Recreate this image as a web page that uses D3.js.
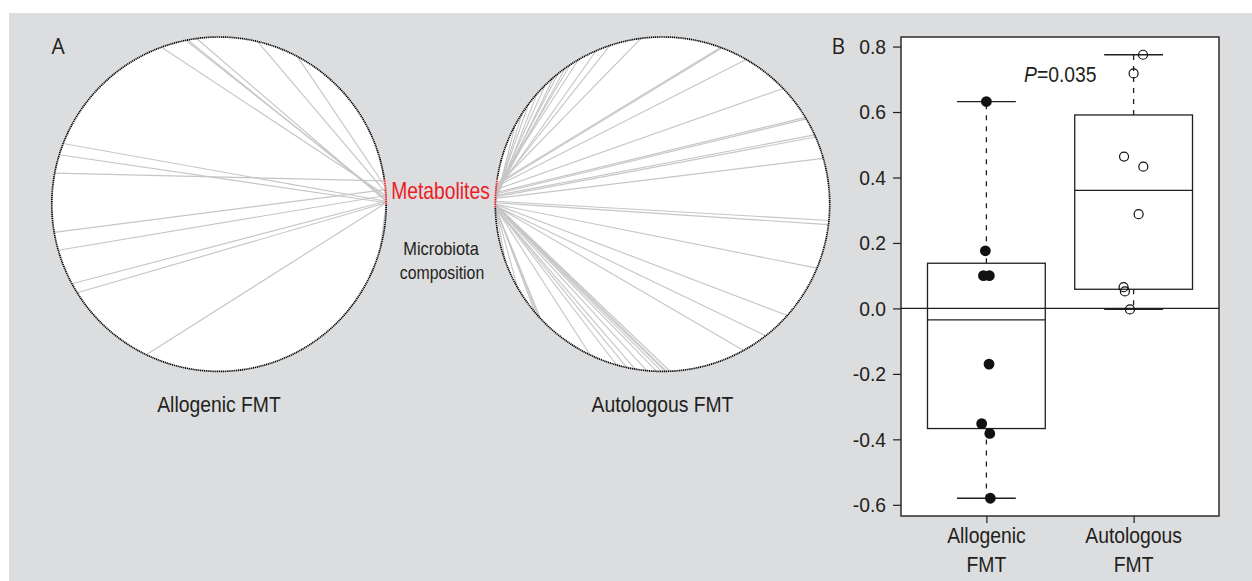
<!DOCTYPE html>
<html>
<head>
<meta charset="utf-8">
<script src="https://cdn.jsdelivr.net/npm/d3@7"></script>
<style>
  body { margin: 0; background: #fff; }
  svg { display: block; }
  text { font-family: "Liberation Sans", Arial, Helvetica, sans-serif; fill: #231f20; }
</style>
</head>
<body>
<div id="chart"></div>
<script>
// ---------- Panel A: links between metabolites and microbiota composition ----------
const circleGroups = ["Allogenic FMT", "Autologous FMT"];
const sectorLabels = ["Metabolites", "Microbiota composition"];
// metabolite sector span on each circle, degrees (0 = 3 o'clock, clockwise)
const metaboliteSpanAllogenic = [-8.6, 0.3];
const metaboliteSpanAutologous = [179, 188.5];
// each link: [angle on metabolite sector, angle on microbiota sector], degrees
const allogenicLinks = [
  [-3, 249.9], [-2, 258.5], [-1.5, 259.2], [-1, 262.3], [-4, 283.3], [-6, 298],
  [-1, 201.3], [-0.5, 197.2], [-8, 190.7], [-5, 170.3], [-3, 164], [-1, 151.6],
  [-0.5, 148], [-0.5, 115.8], [-8.5, 343.5], [0, 15.2]
];
const autologousLinks = [
  [186, 262.6], [185, 251.7], [184, 246.6], [186, 239.8], [185, 236.5], [183, 234.4],
  [184, 231.5], [182, 229.3], [183, 225.5], [181, 221.3], [182, 216.8], [181, 212.8],
  [180, 208.3],
  [187, 290.3], [186.5, 290.8], [186, 300], [185, 316.2], [184, 328.7], [183.5, 329.3],
  [183, 335.5], [182.5, 336.3], [182, 344.1],
  [181, 5.6], [180.5, 7.0], [180, 22.5], [180, 41.7], [179.5, 51.9], [179.5, 61],
  [180, 87.4], [180, 88.6], [179.5, 89.1], [179.5, 90.3], [179.5, 92], [179.5, 95.4],
  [179, 99.4], [179, 102.3], [179, 105.9], [179, 115.6],
  [179, 136.9], [179, 138], [179, 139.6], [179, 150], [179, 160]
];

// ---------- Panel B: correlation per patient ----------
const boxCategories = ["Allogenic", "Autologous"];
const allogenicValues = [0.632, 0.176, 0.10, 0.10, -0.17, -0.352, -0.382, -0.58];
const allogenicJitter = [0, -0.007, -0.02, 0.02, 0.018, -0.032, 0.023, 0.027];
const autologousValues = [0.775, 0.718, 0.464, 0.433, 0.288, 0.065, 0.052, -0.003];
const autologousJitter = [0.064, 0, -0.065, 0.066, 0.034, -0.068, -0.059, -0.025];
const yTicks = [-0.6, -0.4, -0.2, 0.0, 0.2, 0.4, 0.6, 0.8];
const pValue = "0.035";

const W = 1252, H = 581;
const svg = d3.select("#chart").append("svg").attr("width", W).attr("height", H);

svg.append("rect").attr("x", 9).attr("y", 13).attr("width", W - 9).attr("height", H - 13)
  .attr("fill", "#dcdddf");

const ink = "#231f20";
const red = "#ec1c24";

// text with a slightly condensed face
function label(parent, x, y, str, size, opts = {}) {
  const sx = opts.sx ?? 0.9;
  const t = parent.append("text")
    .attr("transform", `translate(${x},${y}) scale(${sx},1)`)
    .attr("text-anchor", opts.anchor || "middle")
    .style("font-size", size + "px");
  if (opts.fill) t.style("fill", opts.fill);
  if (opts.family) t.style("font-family", opts.family);
  t.text(str);
  return t;
}

// ---------- draw Panel A ----------
const deg = d3.scaleLinear().domain([0, 360]).range([0, 2 * Math.PI]);
const circleX = d3.scalePoint().domain(circleGroups).range([219, 662.5]);
const circleY = 204.2, R = 167.2;

function ringPoint(cx, a) {
  return [cx + R * Math.cos(deg(a)), circleY + R * Math.sin(deg(a))];
}

function drawCircle(name, links, span) {
  const cx = circleX(name);
  const g = svg.append("g");
  g.append("circle").attr("cx", cx).attr("cy", circleY).attr("r", R).attr("fill", "#fff");

  g.selectAll("line.link").data(links).join("line")
    .attr("class", "link")
    .attr("x1", d => ringPoint(cx, d[0])[0])
    .attr("y1", d => ringPoint(cx, d[0])[1])
    .attr("x2", d => ringPoint(cx, d[1])[0])
    .attr("y2", d => ringPoint(cx, d[1])[1])
    .attr("stroke", "#c6c6c6")
    .attr("stroke-width", 1.15);

  // microbiota sector border (dotted)
  const p1 = d3.path();
  p1.arc(cx, circleY, R, deg(span[1]), deg(span[0] + 360), false);
  g.append("path").attr("d", p1.toString()).attr("fill", "none")
    .attr("stroke", "#000").attr("stroke-width", 1.7).attr("stroke-dasharray", "1.2,0.7");

  // metabolite sector border (dotted red)
  const p2 = d3.path();
  p2.arc(cx, circleY, R, deg(span[0]), deg(span[1]), false);
  g.append("path").attr("d", p2.toString()).attr("fill", "none")
    .attr("stroke", red).attr("stroke-width", 1.8).attr("stroke-dasharray", "1.2,0.6");

  label(svg, cx, 412, name, 21.5, { sx: 0.9 });
}

drawCircle(circleGroups[0], allogenicLinks, metaboliteSpanAllogenic);
drawCircle(circleGroups[1], autologousLinks, metaboliteSpanAutologous);

label(svg, 440.5, 199, sectorLabels[0], 23, { sx: 0.84, fill: red });
label(svg, 441, 254.5, "Microbiota", 18, { sx: 0.91 });
label(svg, 442, 278.5, "composition", 18, { sx: 0.88 });

svg.append("text").attr("x", 51.5).attr("y", 54)
  .style("font-family", "'Open Sans', 'Noto Sans', sans-serif").style("font-size", "21px").text("A");
svg.append("text").attr("x", 831.5).attr("y", 54)
  .style("font-family", "'Open Sans', 'Noto Sans', sans-serif").style("font-size", "21px").text("B");

// ---------- draw Panel B ----------
const allVals = allogenicValues.concat(autologousValues);
const [vmin, vmax] = d3.extent(allVals);
const pad = (vmax - vmin) * 0.04;
const y = d3.scaleLinear().domain([vmin - pad, vmax + pad]).range([516, 37]);
const x = d3.scaleLinear().domain([0.42, 2.58]).range([901, 1219]);

const plot = svg.append("g");
plot.append("rect").attr("x", x.range()[0]).attr("y", y.range()[1])
  .attr("width", x.range()[1] - x.range()[0]).attr("height", y.range()[0] - y.range()[1])
  .attr("fill", "#fff");

// zero reference line
plot.append("line").attr("x1", x.range()[0]).attr("x2", x.range()[1])
  .attr("y1", y(0)).attr("y2", y(0)).attr("stroke", ink).attr("stroke-width", 1.1);

function fivenum(values) {
  const s = values.slice().sort((a, b) => a - b);
  const n = s.length;
  const n4 = Math.floor((n + 3) / 2) / 2;
  const d = [1, n4, (n + 1) / 2, n + 1 - n4, n];
  return d.map(v => 0.5 * (s[Math.floor(v) - 1] + s[Math.ceil(v) - 1]));
}

function drawBox(pos, values, jitter, filled) {
  const [lo, q1, med, q3, hi] = fivenum(values);
  const iqr = q3 - q1;
  const inside = values.filter(v => v >= q1 - 1.5 * iqr && v <= q3 + 1.5 * iqr);
  const wLo = d3.min(inside), wHi = d3.max(inside);
  const half = 0.4, cap = 0.2;
  const g = plot.append("g").attr("stroke", ink).attr("stroke-width", 1.3).attr("fill", "none");

  // whiskers
  g.append("line").attr("x1", x(pos)).attr("x2", x(pos)).attr("y1", y(q3)).attr("y2", y(wHi))
    .attr("stroke-dasharray", "5,6");
  g.append("line").attr("x1", x(pos)).attr("x2", x(pos)).attr("y1", y(q1)).attr("y2", y(wLo))
    .attr("stroke-dasharray", "5,6");
  g.append("line").attr("x1", x(pos - cap)).attr("x2", x(pos + cap)).attr("y1", y(wHi)).attr("y2", y(wHi));
  g.append("line").attr("x1", x(pos - cap)).attr("x2", x(pos + cap)).attr("y1", y(wLo)).attr("y2", y(wLo));

  // box and median
  g.append("rect").attr("x", x(pos - half)).attr("y", y(q3))
    .attr("width", x(pos + half) - x(pos - half)).attr("height", y(q1) - y(q3));
  g.append("line").attr("x1", x(pos - half)).attr("x2", x(pos + half)).attr("y1", y(med)).attr("y2", y(med));

  // individual points
  plot.append("g").selectAll("circle").data(values).join("circle")
    .attr("cx", (d, i) => x(pos + jitter[i]))
    .attr("cy", d => y(d))
    .attr("r", filled ? 5.4 : 4.5)
    .attr("fill", filled ? "#111" : "none")
    .attr("stroke", "#111")
    .attr("stroke-width", filled ? 0 : 1.2);
}

drawBox(1, allogenicValues, allogenicJitter, true);
drawBox(2, autologousValues, autologousJitter, false);

// frame
plot.append("rect").attr("x", x.range()[0]).attr("y", y.range()[1])
  .attr("width", x.range()[1] - x.range()[0]).attr("height", y.range()[0] - y.range()[1])
  .attr("fill", "none").attr("stroke", ink).attr("stroke-width", 1.4);

// y axis
const sxTick = 0.92;
const yAxis = svg.append("g").attr("transform", `translate(${x.range()[0]},0)`)
  .call(d3.axisLeft(y).tickValues(yTicks).tickFormat(d => d.toFixed(1)).tickSize(8).tickPadding(7));
yAxis.select(".domain").remove();
yAxis.selectAll(".tick line").attr("stroke", ink).attr("stroke-width", 1.2);
yAxis.selectAll(".tick text")
  .attr("font-family", null).attr("font-size", null)
  .style("font-size", "21px")
  .attr("x", -15 / sxTick)
  .attr("transform", `scale(${sxTick},1)`);

// x axis
const xAxis = svg.append("g").attr("transform", `translate(0,${y.range()[0]})`)
  .call(d3.axisBottom(x).tickValues([1, 2]).tickFormat("").tickSize(7));
xAxis.select(".domain").remove();
xAxis.selectAll(".tick line").attr("stroke", ink).attr("stroke-width", 1.2);
boxCategories.forEach((c, i) => {
  label(svg, x(i + 1), 543, c, 21.5, { sx: 0.9 });
  label(svg, x(i + 1), 571.5, "FMT", 21.5, { sx: 0.9 });
});

// p-value annotation
const pt = svg.append("text")
  .attr("transform", `translate(1024,82) scale(0.9,1)`)
  .style("font-size", "21.5px");
pt.append("tspan").style("font-style", "italic").text("P");
pt.append("tspan").text("=" + pValue);
</script>
</body>
</html>
